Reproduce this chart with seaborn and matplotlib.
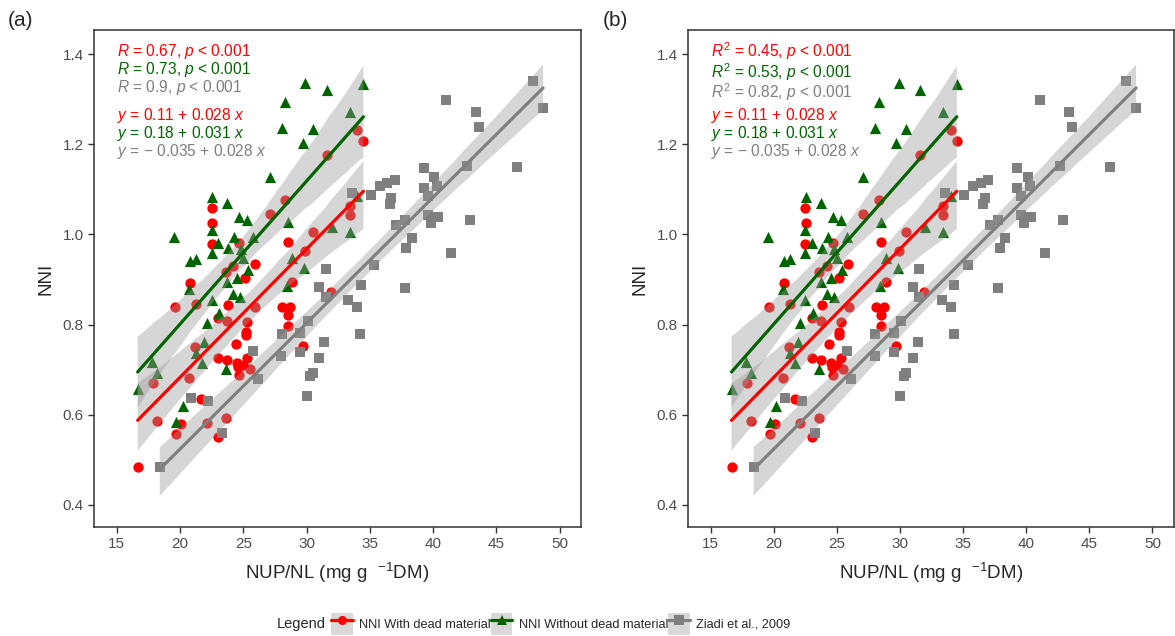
import numpy as np
import pandas as pd
import matplotlib
matplotlib.use("Agg")
import matplotlib.pyplot as plt
import seaborn as sns
from matplotlib.lines import Line2D
from matplotlib.patches import Patch
from matplotlib.legend_handler import HandlerTuple

# ---------------- data ----------------
red_x = [34.0, 34.5, 31.6, 28.3, 27.1, 33.4, 33.4, 30.5, 28.5, 29.9, 28.85, 25.9, 31.9,
         25.95, 28.1, 28.7, 28.5, 28.5, 29.7, 22.5, 22.55, 22.5, 24.7, 23.6, 24.2, 25.15,
         20.8, 21.3, 23.8, 19.6, 17.85, 20.7, 21.2, 24.4, 25.2, 25.2, 25.3, 23.7, 23.0,
         23.0, 23.7, 24.5, 24.6, 25.0, 25.3, 25.5, 24.7, 21.65, 18.2, 20.1, 19.7, 22.1,
         23.6, 23.0, 16.65]
red_y = [1.231, 1.208, 1.176, 1.076, 1.045, 1.064, 1.043, 1.006, 0.984, 0.963, 0.895, 0.934, 0.873,
         0.838, 0.838, 0.838, 0.821, 0.798, 0.753, 1.058, 1.025, 0.979, 0.982, 0.917, 0.930, 0.903,
         0.893, 0.846, 0.843, 0.840, 0.670, 0.681, 0.751, 0.757, 0.777, 0.784, 0.806, 0.809, 0.814,
         0.725, 0.721, 0.714, 0.707, 0.710, 0.725, 0.701, 0.688, 0.634, 0.587, 0.579, 0.557, 0.581,
         0.593, 0.550, 0.483]

green_x = [29.9, 31.6, 34.5, 28.3, 28.05, 30.5, 29.7, 33.4, 27.1, 34.0, 32.0, 33.4, 28.5,
           25.8, 22.55, 23.7, 24.7, 25.3, 22.5, 23.0, 24.3, 23.8, 22.5, 20.8, 21.3, 24.8,
           25.0, 25.4, 24.5, 23.7, 20.7, 24.2, 24.75, 22.5, 28.45, 29.8, 28.85, 19.55, 17.8,
           18.2, 16.65, 21.3, 21.9, 21.7, 23.6, 20.2, 19.7, 22.1, 23.1]
green_y = [1.336, 1.320, 1.333, 1.293, 1.237, 1.233, 1.202, 1.272, 1.128, 1.085, 1.017, 1.006, 1.028,
           0.995, 1.084, 1.070, 1.038, 1.033, 1.010, 0.982, 0.994, 0.969, 0.959, 0.941, 0.945, 0.967,
           0.947, 0.921, 0.903, 0.895, 0.878, 0.869, 0.862, 0.855, 0.886, 0.925, 0.947, 0.995, 0.718,
           0.693, 0.657, 0.736, 0.762, 0.714, 0.701, 0.620, 0.585, 0.804, 0.826]

grey_x = [47.9, 48.7, 41.05, 43.4, 43.6, 42.7, 46.6, 39.3, 40.1, 40.3, 39.3, 37.0, 36.4,
          35.8, 35.1, 33.6, 36.7, 36.6, 39.6, 39.6, 39.85, 40.4, 42.95, 37.75, 37.1, 38.3,
          37.9, 41.45, 35.35, 31.5, 34.3, 37.8, 31.0, 31.5, 33.3, 34.0, 30.1, 29.5, 28.05,
          34.25, 31.4, 29.5, 28.0, 25.8, 31.0, 30.5, 30.3, 30.0, 26.15, 20.9, 22.2, 23.3, 18.4]
grey_y = [1.341, 1.281, 1.299, 1.272, 1.239, 1.152, 1.150, 1.148, 1.128, 1.108, 1.104, 1.121, 1.115,
          1.107, 1.087, 1.093, 1.080, 1.067, 1.086, 1.043, 1.026, 1.038, 1.032, 1.033, 1.022, 0.993,
          0.971, 0.959, 0.932, 0.923, 0.888, 0.882, 0.884, 0.862, 0.855, 0.840, 0.809, 0.781, 0.779,
          0.779, 0.762, 0.740, 0.731, 0.742, 0.725, 0.693, 0.686, 0.642, 0.679, 0.638, 0.631, 0.560, 0.483]

series_names = ["NNI With dead material", "NNI Without dead material", "Ziadi et al., 2009"]
series_colors = ["#FF0000", "#006400", "#7F7F7F"]
series_markers = ["o", "^", "s"]
series_sizes = [55, 65, 60]

stats_a = [r"$R$ = 0.67, $p$ < 0.001", r"$R$ = 0.73, $p$ < 0.001", r"$R$ = 0.9, $p$ < 0.001"]
stats_b = [r"$R^2$ = 0.45, $p$ < 0.001", r"$R^2$ = 0.53, $p$ < 0.001", r"$R^2$ = 0.82, $p$ < 0.001"]
equations = [r"$y$ = 0.11 + 0.028 $x$", r"$y$ = 0.18 + 0.031 $x$", r"$y$ = $-$ 0.035 + 0.028 $x$"]

x_ticks = [15, 20, 25, 30, 35, 40, 45, 50]
y_ticks = [0.4, 0.6, 0.8, 1.0, 1.2, 1.4]

df = pd.concat([
    pd.DataFrame({"x": red_x, "y": red_y, "group": series_names[0]}),
    pd.DataFrame({"x": green_x, "y": green_y, "group": series_names[1]}),
    pd.DataFrame({"x": grey_x, "y": grey_y, "group": series_names[2]}),
], ignore_index=True)

# ---------------- style ----------------
sns.set_style("ticks")
plt.rcParams['font.family'] = ['Liberation Sans', 'DejaVu Sans']
plt.rcParams['mathtext.fontset'] = 'custom'
plt.rcParams['mathtext.rm'] = 'Liberation Sans'
plt.rcParams['mathtext.it'] = 'Liberation Sans:italic'
plt.rcParams['mathtext.bf'] = 'Liberation Sans:bold'
plt.rcParams['mathtext.sf'] = 'Liberation Sans'

fig = plt.figure(figsize=(11.75, 6.36), dpi=100)
ax_a = fig.add_axes([0.080, 0.1714, 0.4145, 0.781])
ax_b = fig.add_axes([0.5855, 0.1714, 0.4136, 0.781])

for ax, stats, sp_stats in [(ax_a, stats_a, 0.0365), (ax_b, stats_b, 0.0405)]:
    # points first
    for name, col, mk, sz in zip(series_names, series_colors, series_markers, series_sizes):
        sub = df[df["group"] == name]
        sns.scatterplot(data=sub, x="x", y="y", color=col, marker=mk, s=sz,
                        linewidth=0, ax=ax, zorder=2, legend=False)
    # smooth lines with confidence ribbons on top
    z = 3
    for name, col in zip(series_names, series_colors):
        sub = df[df["group"] == name]
        n0 = len(ax.collections)
        sns.regplot(data=sub, x="x", y="y", scatter=False, color=col, ax=ax, seed=0,
                    line_kws=dict(lw=2.3, zorder=z + 1))
        for coll in ax.collections[n0:]:
            coll.set_alpha(None)
            coll.set_facecolor((0.6, 0.6, 0.6, 0.4))
            coll.set_edgecolor("none")
            coll.set_zorder(z)
        z += 2

    ax.set_xlim(13.2, 51.7)
    ax.set_ylim(0.351, 1.453)
    ax.set_xticks(x_ticks)
    ax.set_xticklabels([str(v) for v in x_ticks])
    ax.set_yticks(y_ticks)
    ax.set_yticklabels([f"{v:.1f}" for v in y_ticks])
    ax.tick_params(axis="both", colors="#333333", labelcolor="#4D4D4D", labelsize=11,
                   length=4, width=1, direction="out")
    for sp in ax.spines.values():
        sp.set_visible(True)
        sp.set_color("#333333")
        sp.set_linewidth(1.1)
    ax.set_xlabel(r"NUP/NL (mg g  $^{-1}$DM)", fontsize=13.5, labelpad=7)
    ax.set_ylabel("NNI", fontsize=13.5, labelpad=6)
    ax.grid(False)

    y0 = 0.957
    ys = [y0, y0 - sp_stats, y0 - 2 * sp_stats, 0.829, 0.792, 0.755]
    texts = stats + equations
    cols = series_colors + series_colors
    for yy, t, c in zip(ys, texts, cols):
        ax.text(0.047, yy, t, transform=ax.transAxes, color=c, fontsize=11.2,
                ha="left", va="center", zorder=10)

fig.text(8 / 1175, 1 - 20 / 636, "(a)", fontsize=15, va="center", ha="left")
fig.text(603 / 1175, 1 - 20 / 636, "(b)", fontsize=15, va="center", ha="left")

# ---------------- legend ----------------
handles = []
for col, mk in zip(series_colors, series_markers):
    handles.append((Patch(facecolor="#D9D9D9", edgecolor="none"),
                    Line2D([], [], color=col, marker=mk, lw=2.3, markersize=6.5,
                           markeredgewidth=0)))
fig.text(277 / 1175, 1 - 624 / 636, "Legend", fontsize=10.5, va="center", ha="left")
fig.legend(handles, series_names, loc="center left",
           bbox_to_anchor=(331 / 1175, 1 - 624 / 636), ncol=3, frameon=False,
           fontsize=9.2, handlelength=1.7, handleheight=2.35, handletextpad=0.5,
           columnspacing=0.0, borderaxespad=0, borderpad=0,
           handler_map={tuple: HandlerTuple(ndivide=1, pad=0)})

fig.savefig("out.png", dpi=100)
